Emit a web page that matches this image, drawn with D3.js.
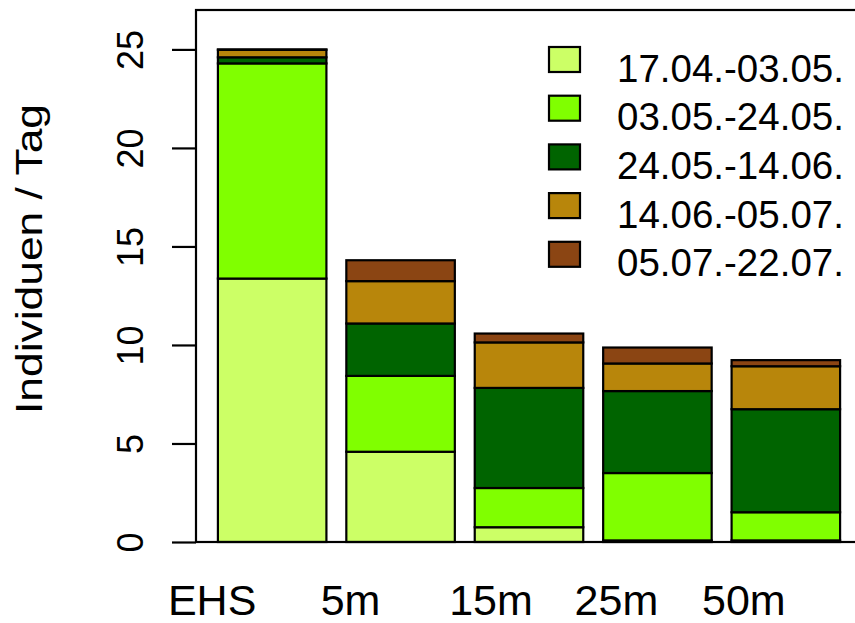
<!DOCTYPE html>
<html>
<head>
<meta charset="utf-8">
<script src="https://cdn.jsdelivr.net/npm/d3@7"></script>
<style>
  html, body { margin: 0; padding: 0; background: #ffffff; }
  svg { display: block; font-family: "Liberation Sans", Arial, sans-serif; }
</style>
</head>
<body>
<svg id="chart" width="855" height="623"></svg>
<script>
// ---- data ----
const categories = ["EHS", "5m", "15m", "25m", "50m"];
const periods = ["17.04.-03.05.", "03.05.-24.05.", "24.05.-14.06.", "14.06.-05.07.", "05.07.-22.07."];
const p1 = [13.37, 4.58, 0.75, 0.08, 0.08];   // 17.04.-03.05.
const p2 = [10.92, 3.85, 1.99, 3.42, 1.43];   // 03.05.-24.05.
const p3 = [0.31, 2.66, 5.08, 4.16, 5.23];    // 24.05.-14.06.
const p4 = [0.38, 2.15, 2.31, 1.40, 2.18];    // 14.06.-05.07.
const p5 = [0.02, 1.06, 0.45, 0.81, 0.31];    // 05.07.-22.07.
const yTicks = [0, 5, 10, 15, 20, 25];
const yTitle = "Individuen / Tag";

// ---- style / layout ----
const colors = ["#CCFF66", "#80FF00", "#006400", "#B8860B", "#8B4513"];
const labelShift = [-60, -50, -38, -41, -42];

const series = [p1, p2, p3, p4, p5];
const rows = categories.map((c, i) => {
  const r = { cat: c };
  periods.forEach((p, k) => r[p] = series[k][i]);
  return r;
});
const stacked = d3.stack().keys(periods)(rows);

const svg = d3.select("#chart");
const x = d3.scaleBand().domain(categories).range([198, 860]).padding(0.155);
const y = d3.scaleLinear().domain([0, 27]).range([542, 10]);

// bars
svg.append("g").selectAll("g").data(stacked).join("g")
  .attr("fill", (d, k) => colors[k])
  .selectAll("rect").data(d => d).join("rect")
  .attr("x", d => x(d.data.cat))
  .attr("width", x.bandwidth())
  .attr("y", d => y(d[1]))
  .attr("height", d => Math.max(0, y(d[0]) - y(d[1])))
  .attr("stroke", "#000").attr("stroke-width", 2.2);

// box
svg.append("rect").attr("x", 196).attr("y", y(27)).attr("width", 700).attr("height", y(0) - y(27))
  .attr("fill", "none").attr("stroke", "#000").attr("stroke-width", 2.2);

// y axis
const yAxis = svg.append("g").attr("transform", "translate(196,0)")
  .call(d3.axisLeft(y).tickValues(yTicks).tickSize(24).tickPadding(0).tickFormat(d3.format("d")));
yAxis.select(".domain").remove();
yAxis.selectAll(".tick line").attr("stroke", "#000").attr("stroke-width", 2.2);
yAxis.selectAll(".tick text")
  .attr("font-size", 36).attr("fill", "#000")
  .attr("text-anchor", "middle")
  .attr("x", 0).attr("dy", 0)
  .attr("transform", "translate(-53,0) rotate(-90)");

// y title
svg.append("text").attr("transform", "translate(42,259) rotate(-90)")
  .attr("text-anchor", "middle").attr("font-size", 37).attr("fill", "#000")
  .attr("textLength", 310).attr("lengthAdjust", "spacingAndGlyphs")
  .text(yTitle);

// category labels
svg.append("g").selectAll("text").data(categories).join("text")
  .attr("x", (d, i) => x(d) + x.bandwidth() / 2 + labelShift[i])
  .attr("y", 615)
  .attr("text-anchor", "middle").attr("font-size", 43).attr("fill", "#000")
  .text(d => d);

// legend
const lg = svg.append("g").selectAll("g").data(periods).join("g")
  .attr("transform", (d, k) => `translate(549,${59.5 + k * 48.7})`);
lg.append("rect").attr("x", 0).attr("y", -12.5).attr("width", 31).attr("height", 25)
  .attr("fill", (d, k) => colors[k]).attr("stroke", "#000").attr("stroke-width", 2.2);
lg.append("text").attr("x", 68).attr("y", 22).attr("font-size", 38.5).attr("fill", "#000").text(d => d);
</script>
</body>
</html>
